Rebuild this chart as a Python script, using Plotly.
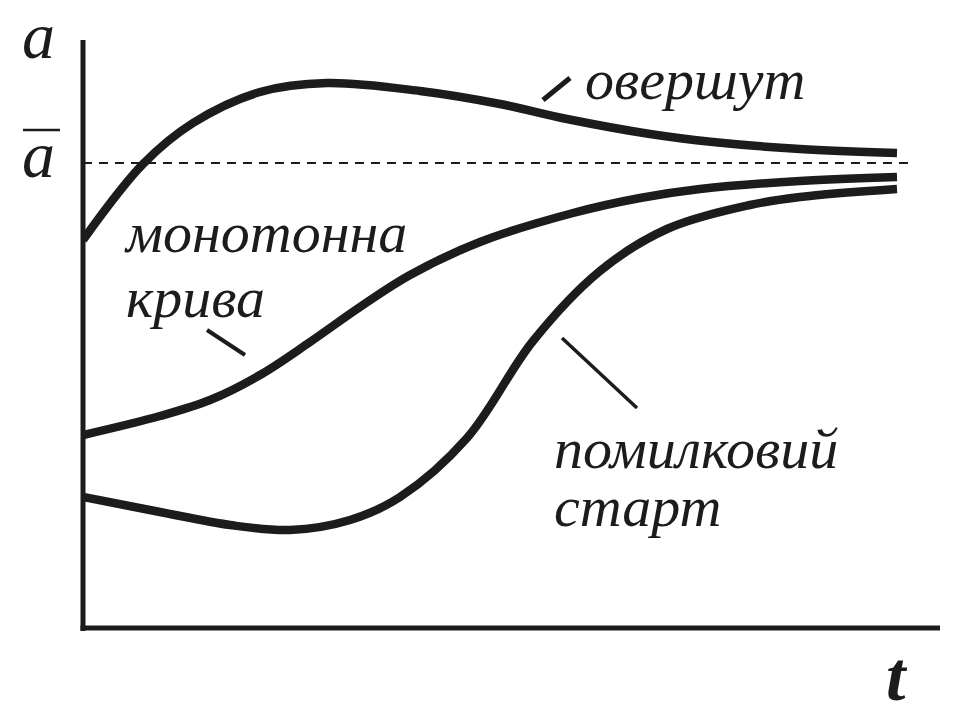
import plotly.graph_objects as go

# ---- data (t in arbitrary time units, a in arbitrary units) ----
t_overshoot = [0.00, 0.60, 1.10, 1.77, 2.44, 3.37, 4.17, 4.84, 5.67, 6.30, 7.17, 8.14]
a_overshoot = [3.88, 4.64, 5.05, 5.36, 5.45, 5.37, 5.24, 5.09, 4.94, 4.86, 4.79, 4.75]

t_monotone = [0.00, 0.77, 1.27, 1.77, 2.27, 2.77, 3.27, 3.97, 4.90, 5.57, 6.17, 7.17, 8.14]
a_monotone = [1.93, 2.12, 2.28, 2.53, 2.86, 3.21, 3.53, 3.86, 4.15, 4.30, 4.39, 4.47, 4.51]

t_false = [0.00, 0.77, 1.47, 2.07, 2.67, 3.17, 3.84, 4.50, 5.17, 5.84, 6.67, 7.17, 8.14]
a_false = [1.31, 1.16, 1.03, 0.98, 1.08, 1.31, 1.90, 2.87, 3.57, 3.99, 4.23, 4.31, 4.39]

a_bar = 4.65
t_bar = [0.0, 8.26]

label_overshoot = "овершут"
label_mono = ["монотонна", "крива"]
label_false = ["помилковий", "старт"]
axis_y_label = "a"
axis_x_label = "t"

INK = "#1c1c1c"
W, H = 980, 708
L, R, T, B = 83, 40, 40, 80
PW, PH = W - L - R, H - T - B


def px(x):
    return (x - L) / PW


def py(y):
    return (H - B - y) / PH


fig = go.Figure()

fig.add_trace(go.Scatter(x=t_bar, y=[a_bar, a_bar], mode="lines",
                         line=dict(color=INK, width=2, dash="9px,7px"), hoverinfo="skip"))
for tx, ay in [(t_overshoot, a_overshoot), (t_monotone, a_monotone), (t_false, a_false)]:
    fig.add_trace(go.Scatter(x=tx, y=ay, mode="lines",
                             line=dict(color=INK, width=8.5, shape="spline", smoothing=1.0),
                             hoverinfo="skip"))

shapes = [
    # axes
    dict(type="line", xref="paper", yref="paper", x0=0, x1=0, y0=py(631), y1=1,
         line=dict(color=INK, width=5)),
    dict(type="line", xref="paper", yref="paper", x0=px(80.5), x1=1, y0=0, y1=0,
         line=dict(color=INK, width=5)),
    # overline of a-bar
    dict(type="line", xref="paper", yref="paper", x0=px(23), x1=px(60), y0=py(130), y1=py(130),
         line=dict(color=INK, width=2.5)),
    # leader lines
    dict(type="line", xref="paper", yref="paper", x0=px(543), x1=px(570), y0=py(100), y1=py(78),
         line=dict(color=INK, width=5)),
    dict(type="line", xref="paper", yref="paper", x0=px(207), x1=px(245), y0=py(330), y1=py(355),
         line=dict(color=INK, width=4)),
    dict(type="line", xref="paper", yref="paper", x0=px(562), x1=px(637), y0=py(338), y1=py(408),
         line=dict(color=INK, width=3.5)),
]

font_lbl = dict(family="Liberation Serif", size=58, color=INK, style="italic")
font_a = dict(family="Liberation Serif", size=66, color=INK, style="italic")
font_t = dict(family="Liberation Serif", size=70, color=INK, style="italic", weight="bold")


def ann(text, x, y, font, xanchor="left", height=None):
    d = dict(text=text, xref="paper", yref="paper", x=px(x), y=py(y), xanchor=xanchor,
             yanchor="middle", showarrow=False, font=font)
    if height:
        d["height"] = height
        d["valign"] = "middle"
    return d


annotations = [
    ann(label_overshoot, 583, 80, font_lbl),
    ann(label_mono[0], 122, 232, font_lbl),
    ann(label_mono[1], 124, 297, font_lbl),
    ann(label_false[0], 552, 448, font_lbl),
    ann(label_false[1], 552, 507, font_lbl),
    ann(axis_y_label, 20, 36, font_a),
    ann(axis_y_label, 20, 154, font_a),
    ann(axis_x_label, 884, 676, font_t, height=58),
]

fig.update_layout(
    width=W, height=H,
    margin=dict(l=L, r=R, t=T, b=B),
    paper_bgcolor="white", plot_bgcolor="white",
    showlegend=False,
    xaxis=dict(range=[0, PW / 100], visible=False, fixedrange=True),
    yaxis=dict(range=[0, PH / 100], visible=False, fixedrange=True),
    shapes=shapes,
    annotations=annotations,
)

fig.write_html("out.html", config={"displayModeBar": False},
               post_script="document.body.style.margin='0';document.body.style.overflow='hidden';")
